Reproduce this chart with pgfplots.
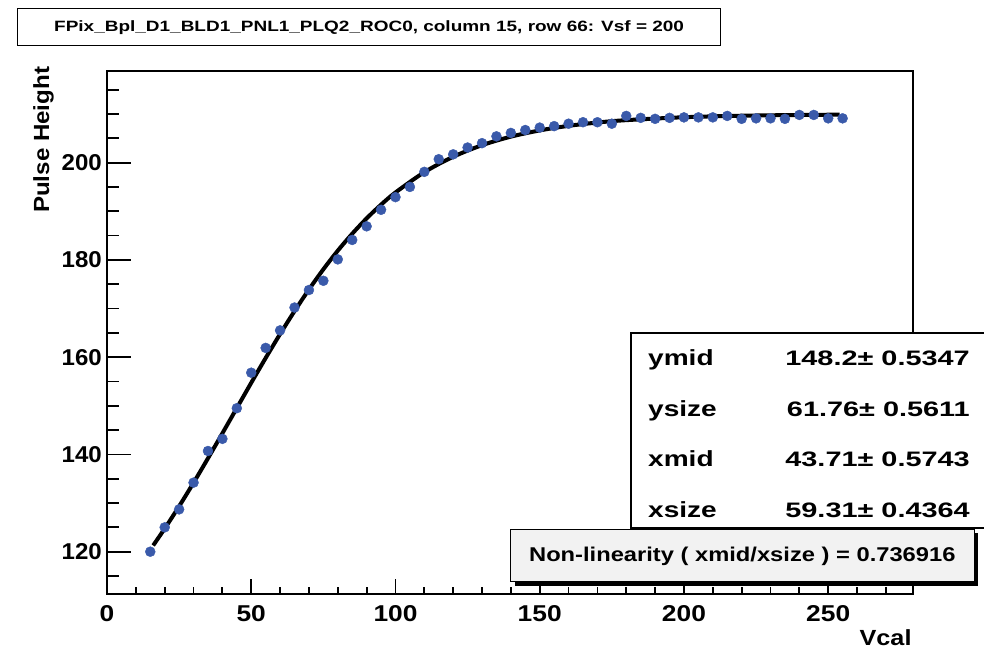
\documentclass[border=0pt]{standalone}
\usepackage{pgfplots}
\pgfplotsset{compat=1.18}
\usepackage{fontspec}
\setmainfont{Liberation Sans}
\definecolor{ptblue}{RGB}{58,90,170}
\newcommand{\sx}[2]{\scalebox{#1}[1]{#2}}
\newcommand{\fs}[1]{\fontsize{#1}{#1}\selectfont}
\begin{document}
\begin{tikzpicture}[x=1bp,y=1bp]
\useasboundingbox (0,0) rectangle (984,649);
\begin{axis}[
  at={(107bp,55bp)}, anchor=south west,
  scale only axis, width=806bp, height=523.3bp,
  xmin=0, xmax=279.4, ymin=111.3, ymax=218.9,
  axis line style={line width=1.8bp},
  major tick length=0pt, minor tick length=0pt,
  tick style={draw=none},
  xtick={0,50,100,150,200,250},
  xticklabels={\sx{1.15}{0},\sx{1.15}{50},\sx{1.15}{100},\sx{1.15}{150},\sx{1.15}{200},\sx{1.15}{250}},
  ytick={120,140,160,180,200},
  yticklabels={\sx{1.05}{120},\sx{1.05}{140},\sx{1.05}{160},\sx{1.05}{180},\sx{1.05}{200}},
  ticklabel style={font=\bfseries\fs{23}},
  xticklabel style={anchor=north, inner sep=0pt, yshift=-11bp},
  yticklabel style={anchor=east, inner sep=0pt, xshift=-5bp},
]
\addplot[only marks, mark=*, mark size=5bp, color=ptblue, mark options={draw=ptblue, fill=ptblue}] coordinates {
(15,120.0) (20,125.0) (25,128.7) (30,134.2) (35,140.7) (40,143.2) (45,149.5)
(50,156.8) (55,161.9) (60,165.5) (65,170.2) (70,173.8) (75,175.7) (80,180.1)
(85,184.1) (90,186.9) (95,190.3) (100,192.9) (105,195.0) (110,198.1) (115,200.7)
(120,201.7) (125,203.1) (130,204.0) (135,205.4) (140,206.1) (145,206.7) (150,207.2)
(155,207.5) (160,208.0) (165,208.3) (170,208.3) (175,208.0) (180,209.6) (185,209.2)
(190,209.0) (195,209.2) (200,209.3) (205,209.3) (210,209.3) (215,209.6) (220,209.0)
(225,209.1) (230,209.1) (235,209.0) (240,209.8) (245,209.8) (250,209.1) (255,209.1)
};
\addplot[black, line width=4bp, no marks, smooth] coordinates {
(16,121.28) (20,124.75) (25,129.34) (30,134.17) (35,139.20) (40,144.34) (45,149.54)
(50,154.73) (55,159.82) (60,164.75) (65,169.46) (70,173.91) (75,178.06) (80,181.89)
(85,185.37) (90,188.53) (95,191.35) (100,193.86) (110,198.03) (120,201.20)
(130,203.58) (140,205.34) (150,206.62) (160,207.56) (170,208.24) (180,208.73)
(200,209.33) (220,209.64) (240,209.79) (254,209.86)
};
\pgfplotsinvokeforeach{50,100,150,200,250}{\draw[line width=1.8bp] (axis cs:#1,111.3) -- ([yshift=15bp]axis cs:#1,111.3);}
\pgfplotsinvokeforeach{10,20,30,40,60,70,80,90,110,120,130,140,160,170,180,190,210,220,230,240,260,270}{\draw[line width=1.8bp] (axis cs:#1,111.3) -- ([yshift=7.3bp]axis cs:#1,111.3);}
\pgfplotsinvokeforeach{120,140,160,180,200}{\draw[line width=1.8bp] (axis cs:0,#1) -- ([xshift=24bp]axis cs:0,#1);}
\pgfplotsinvokeforeach{115,125,130,135,145,150,155,165,170,175,185,190,195,205,210,215}{\draw[line width=1.8bp] (axis cs:0,#1) -- ([xshift=12bp]axis cs:0,#1);}
\end{axis}
% title
\node[draw, line width=1.3bp, minimum width=703bp, minimum height=37bp, anchor=north west, inner sep=0pt] at (17,641) {\bfseries\fs{15}\sx{1.27}{FPix\_Bpl\_D1\_BLD1\_PNL1\_PLQ2\_ROC0, column 15, row 66: Vsf = 200}};
% axis titles
\node[rotate=90, anchor=base east, inner sep=0pt] at (49,582.3) {\bfseries\fs{22}\sx{1.1}{Pulse Height}};
\node[anchor=base east, inner sep=0pt] at (911.7,3) {\bfseries\fs{22}\sx{1.15}{Vcal}};
% stat box
\filldraw[fill=white, draw=black, line width=1.5bp] (631,121) rectangle (995,316);
\foreach \lab/\val/\yy in {ymid/148.2± 0.5347/283.5, ysize/61.76± 0.5611/232.8, xmid/43.71± 0.5743/182.1, xsize/59.31± 0.4364/131.4}{
  \node[anchor=base west, inner sep=0pt] at (648,\yy) {\bfseries\fs{22}\sx{1.28}{\lab}};
  \node[anchor=base east, inner sep=0pt] at (970,\yy) {\bfseries\fs{21}\sx{1.38}{\val}};
}
% non-linearity box
\fill[black] (514.7,63.3) rectangle (978,115.7);
\filldraw[fill=gray!10, draw=black, line width=1bp] (510.7,67.3) rectangle (974,119.7);
\node[inner sep=0pt] at (742.3,93) {\bfseries\fs{20}\sx{1.19}{Non-linearity ( xmid/xsize ) = 0.736916}};
\end{tikzpicture}
\end{document}
